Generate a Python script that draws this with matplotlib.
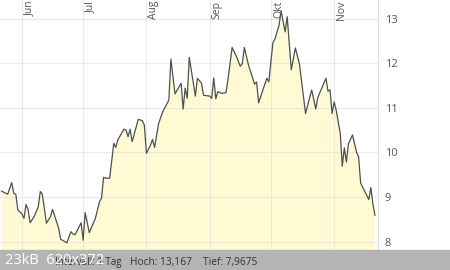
import numpy as np
import pandas as pd
import matplotlib
matplotlib.use("Agg")
import matplotlib.pyplot as plt
import matplotlib.dates as mdates

plt.rcParams['font.family'] = ['Open Sans', 'DejaVu Sans']

# daily closes (year is arbitrary)
dates = pd.to_datetime([
    "2017-05-22", "2017-05-25", "2017-05-27", "2017-05-28", "2017-05-29", "2017-05-30",
    "2017-06-01", "2017-06-02", "2017-06-03", "2017-06-04", "2017-06-05", "2017-06-07",
    "2017-06-09", "2017-06-10", "2017-06-11", "2017-06-13", "2017-06-15", "2017-06-16",
    "2017-06-18", "2017-06-19", "2017-06-20", "2017-06-22", "2017-06-23", "2017-06-25",
    "2017-06-26", "2017-06-27", "2017-06-30", "2017-07-01", "2017-07-02", "2017-07-04",
    "2017-07-07", "2017-07-09", "2017-07-10", "2017-07-11", "2017-07-12", "2017-07-14",
    "2017-07-16", "2017-07-17", "2017-07-18", "2017-07-21", "2017-07-22", "2017-07-23",
    "2017-07-24", "2017-07-25", "2017-07-27", "2017-07-28", "2017-07-30", "2017-07-31",
    "2017-08-01", "2017-08-03", "2017-08-04", "2017-08-05", "2017-08-07", "2017-08-09",
    "2017-08-12", "2017-08-13", "2017-08-15", "2017-08-18", "2017-08-19", "2017-08-20",
    "2017-08-21", "2017-08-22", "2017-08-25", "2017-08-26", "2017-08-28", "2017-08-29",
    "2017-09-01", "2017-09-02", "2017-09-03", "2017-09-04", "2017-09-05", "2017-09-07",
    "2017-09-09", "2017-09-10", "2017-09-12", "2017-09-14", "2017-09-16", "2017-09-17",
    "2017-09-18", "2017-09-20", "2017-09-23", "2017-09-24", "2017-09-25", "2017-09-29",
    "2017-09-30", "2017-10-02", "2017-10-03", "2017-10-05", "2017-10-06", "2017-10-08",
    "2017-10-09", "2017-10-11", "2017-10-13", "2017-10-15", "2017-10-18", "2017-10-21",
    "2017-10-23", "2017-10-24", "2017-10-28", "2017-10-29", "2017-10-30", "2017-10-31",
    "2017-11-01", "2017-11-02", "2017-11-04", "2017-11-05", "2017-11-06", "2017-11-07",
    "2017-11-08", "2017-11-10", "2017-11-12", "2017-11-13", "2017-11-14", "2017-11-18",
    "2017-11-19", "2017-11-20", "2017-11-21",
])
prices = [
    9.13, 9.06, 9.32, 9.08, 9.06, 8.71,
    8.62, 8.52, 8.83, 8.72, 8.42, 8.56,
    8.78, 9.12, 9.06, 8.41, 8.56, 8.72,
    8.44, 8.30, 8.05, 8.00, 7.97, 8.22,
    8.17, 8.15, 8.42, 8.03, 8.65, 8.20,
    8.52, 8.89, 8.97, 9.44, 9.42, 9.42,
    10.20, 10.11, 10.28, 10.52, 10.50, 10.35,
    10.52, 10.24, 10.57, 10.74, 10.71, 10.61,
    9.98, 10.16, 10.29, 10.11, 10.65, 10.91,
    11.17, 12.09, 11.31, 11.55, 10.97, 11.44,
    11.21, 12.13, 11.26, 11.66, 11.55, 11.28,
    11.26, 11.21, 11.67, 11.20, 11.36, 11.32,
    11.34, 11.64, 12.35, 12.16, 11.93, 11.99,
    12.35, 11.96, 11.53, 11.58, 11.11, 11.66,
    11.58, 12.46, 12.54, 12.85, 13.17, 12.70,
    13.04, 11.85, 12.34, 11.98, 10.87, 11.40,
    10.97, 11.23, 11.66, 11.37, 11.40, 10.87,
    11.13, 10.95, 10.42, 9.69, 10.10, 9.78,
    10.19, 10.39, 10.00, 9.90, 9.31, 8.94,
    9.21, 8.84, 8.59,
]

month_starts = pd.to_datetime(["2017-06-01", "2017-07-01", "2017-08-01",
                               "2017-09-01", "2017-10-01", "2017-11-01"])
month_names = ["Jun", "Jul", "Aug", "Sep", "Okt", "Nov"]
y_ticks = [8, 9, 10, 11, 12, 13]

fig = plt.figure(figsize=(4.5, 2.7), dpi=100)
ax = fig.add_axes([0, 20 / 270, 378 / 450, 250 / 270])

ax.fill_between(dates, prices, 7.0, color="#fffad4", lw=0, zorder=1)
ax.plot(dates, prices, color="#4b5252", lw=0.9, zorder=3)

ax.set_xlim(pd.Timestamp("2017-05-21 06:00"), pd.Timestamp("2017-11-22 12:00"))
ax.set_ylim(7.81, 13.415)

ax.set_xticks(month_starts)
ax.set_xticklabels([])
ax.set_yticks(y_ticks)
ax.yaxis.tick_right()
ax.tick_params(axis="y", length=0, pad=5, labelsize=8, labelcolor="#555555")
ax.tick_params(axis="x", length=0)
ax.grid(True, color="#d8d8d8", lw=0.8, alpha=0.5)
for g in ax.get_xgridlines() + ax.get_ygridlines():
    g.set_zorder(2)

for side in ["top", "left", "bottom"]:
    ax.spines[side].set_visible(False)
ax.spines["right"].set_color("#dddddd")
ax.spines["right"].set_linewidth(0.8)

for d, name in zip(month_starts, month_names):
    ax.annotate(name, xy=(d, 1), xycoords=("data", "axes fraction"),
                xytext=(1.5, -0.5), textcoords="offset points",
                rotation=90, ha="left", va="top", fontsize=7.5, color="#555555")

# info bar at the bottom
fig.patches.append(plt.Rectangle((0, 0), 1, 20 / 270, transform=fig.transFigure,
                                 color="#b4b4b4", zorder=0))
fig.text(55 / 450, 7.5 / 270, "Intervall: 1 Tag", fontsize=7, color="#333333", va="center")
fig.text(130 / 450, 7.5 / 270, "Hoch: 13,167", fontsize=7.3, color="#333333", va="center")
fig.text(203 / 450, 7.5 / 270, "Tief: 7,9675", fontsize=7.3, color="#333333", va="center")
fig.text(5 / 450, 10 / 270, "23kB  620x372", fontsize=10.5, color="white", va="center")

fig.savefig("out.png", dpi=100)
